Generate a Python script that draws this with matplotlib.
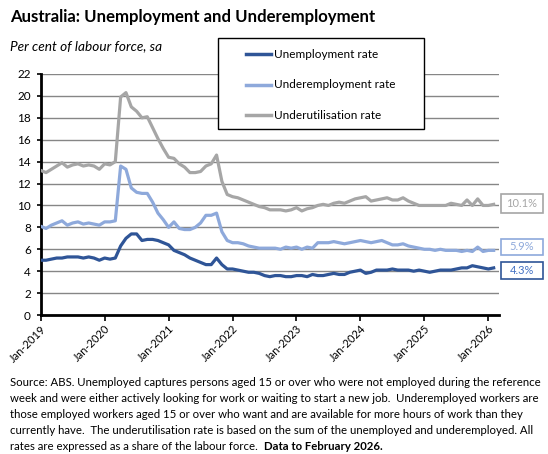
import numpy as np
import pandas as pd
import matplotlib
matplotlib.use('Agg')
import matplotlib.pyplot as plt
from matplotlib.lines import Line2D
from matplotlib.patches import Rectangle

plt.rcParams['font.family'] = ['Lato', 'DejaVu Sans']

# monthly data, Jan-2019 to Feb-2026
dates = pd.date_range('2019-01-01', '2026-02-01', freq='MS')

unemp = [5.0, 5.0, 5.1, 5.2, 5.2, 5.3, 5.3, 5.3, 5.2, 5.3, 5.2, 5.0,
         5.2, 5.1, 5.2, 6.3, 7.0, 7.4, 7.4, 6.8, 6.9, 6.9, 6.8, 6.6,
         6.4, 5.9, 5.7, 5.5, 5.2, 5.0, 4.8, 4.6, 4.6, 5.2, 4.6, 4.2,
         4.2, 4.1, 4.0, 3.9, 3.9, 3.8, 3.6, 3.5, 3.6, 3.6, 3.5, 3.5,
         3.6, 3.6, 3.5, 3.7, 3.6, 3.6, 3.7, 3.8, 3.7, 3.7, 3.9, 4.0,
         4.1, 3.8, 3.9, 4.1, 4.1, 4.1, 4.2, 4.1, 4.1, 4.1, 4.0, 4.1,
         4.0, 3.9, 4.0, 4.1, 4.1, 4.1, 4.2, 4.3, 4.3, 4.5, 4.4, 4.3,
         4.2, 4.3]

underemp = [8.1, 7.9, 8.2, 8.4, 8.6, 8.2, 8.4, 8.5, 8.3, 8.4, 8.3, 8.2,
            8.5, 8.5, 8.6, 13.6, 13.3, 11.6, 11.2, 11.1, 11.1, 10.3, 9.3, 8.7,
            8.0, 8.5, 7.9, 7.8, 7.8, 8.0, 8.4, 9.1, 9.1, 9.3, 7.6, 6.8,
            6.6, 6.6, 6.5, 6.3, 6.2, 6.1, 6.1, 6.1, 6.1, 6.0, 6.2, 6.1,
            6.2, 6.0, 6.2, 6.1, 6.6, 6.6, 6.6, 6.7, 6.6, 6.5, 6.6, 6.7,
            6.8, 6.7, 6.6, 6.7, 6.8, 6.6, 6.4, 6.4, 6.5, 6.3, 6.2, 6.1,
            6.0, 6.0, 5.9, 6.0, 5.9, 5.9, 5.9, 5.8, 5.9, 5.8, 6.2, 5.8,
            5.9, 5.9]

underutil = [13.2, 13.0, 13.3, 13.6, 13.9, 13.5, 13.7, 13.8, 13.6, 13.7, 13.6, 13.3,
             13.8, 13.7, 14.0, 19.9, 20.3, 19.0, 18.6, 18.0, 18.1, 17.1, 16.1, 15.2,
             14.4, 14.3, 13.8, 13.5, 13.0, 13.0, 13.1, 13.6, 13.8, 14.6, 12.2, 11.0,
             10.8, 10.7, 10.5, 10.3, 10.1, 9.9, 9.8, 9.6, 9.6, 9.6, 9.5, 9.6,
             9.8, 9.5, 9.7, 9.8, 10.0, 10.1, 10.0, 10.2, 10.3, 10.2, 10.4, 10.6,
             10.7, 10.8, 10.4, 10.5, 10.6, 10.7, 10.5, 10.5, 10.7, 10.4, 10.2, 10.0,
             10.0, 10.0, 10.0, 10.0, 10.0, 10.2, 10.1, 10.0, 10.5, 10.0, 10.6, 10.0,
             10.0, 10.1]

series_names = ['Unemployment rate', 'Underemployment rate', 'Underutilisation rate']
colors = ['#2F5597', '#8EA9DB', '#A6A6A6']
label_text_colors = ['#4472C4', '#8EA9DB', '#A6A6A6']

tick_years = list(range(2019, 2027))
tick_labels = ['Jan-%d' % y for y in tick_years]

W, H = 548, 454
def fx(px): return px / W
def fy(py): return 1 - py / H

fig = plt.figure(figsize=(5.48, 4.54), dpi=100)
ax = fig.add_axes([fx(40.7), fy(315), fx(499) - fx(40.7), fy(74) - fy(315)])

x = np.arange(len(dates))
for vals, col in zip([underutil, underemp, unemp], colors[::-1]):
    ax.plot(x, vals, color=col, lw=2.3, solid_joinstyle='round', zorder=3)

ax.set_ylim(0, 22)
ax.set_yticks(range(0, 23, 2))
ax.set_xlim(0, len(dates))
xt = [(y - 2019) * 12 for y in tick_years]
ax.set_xticks(xt)
ax.set_xticklabels(tick_labels, rotation=45, ha='right', rotation_mode='anchor', fontsize=8)
ax.tick_params(axis='y', labelsize=8.5, length=3, width=1.2, pad=4)
ax.tick_params(axis='x', length=4, width=1.2, pad=2)
ax.grid(axis='y', color='#868686', lw=1)
ax.set_axisbelow(True)
for s in ['top', 'right']:
    ax.spines[s].set_visible(False)
ax.spines['left'].set_linewidth(2)
ax.spines['bottom'].set_linewidth(2)

fig.text(fx(10), fy(17), 'Australia: Unemployment and Underemployment',
         fontsize=12.1, fontweight='bold', va='center')
fig.text(fx(10), fy(46), 'Per cent of labour force, sa', fontsize=9.8, style='italic', va='center')

# legend box drawn by hand
fig.patches.append(Rectangle((fx(218), fy(129)), fx(424) - fx(218), fy(38) - fy(129),
                             transform=fig.transFigure, fc='white', ec='black', lw=1, zorder=10))
for i, (name, col) in enumerate(zip(series_names, colors)):
    yy = fy(54 + i * 30.5)
    fig.lines.append(Line2D([fx(246), fx(271)], [yy, yy], transform=fig.transFigure,
                            color=col, lw=2.5, zorder=11))
    fig.text(fx(274), yy, name, fontsize=8.5, va='center', zorder=12)

# last-value labels
last = [unemp[-1], underemp[-1], underutil[-1]]
box_top = [262, 238.5, 194.5]
box_h = [17, 16, 18]
for v, top, h, col, tcol in zip(last, box_top, box_h, colors, label_text_colors):
    fig.patches.append(Rectangle((fx(501), fy(top + h)), fx(542.5) - fx(501), fy(top) - fy(top + h),
                                 transform=fig.transFigure, fc='white', ec=col, lw=1.2))
    fig.text(fx(521.7), fy(top + h / 2), '%.1f%%' % v, fontsize=8, color=tcol,
             ha='center', va='center')

src = ['Source: ABS. Unemployed captures persons aged 15 or over who were not employed during the reference',
       'week and were either actively looking for work or waiting to start a new job.  Underemployed workers are',
       'those employed workers aged 15 or over who want and are available for more hours of work than they',
       'currently have.  The underutilisation rate is based on the sum of the unemployed and underemployed. All']
last_line = 'rates are expressed as a share of the labour force.  '
bold_part = 'Data to February 2026.'
for i, line in enumerate(src):
    fig.text(fx(10), fy(382 + i * 16), line, fontsize=8.2, va='center')
t = fig.text(fx(10), fy(382 + 4 * 16), last_line, fontsize=8.2, va='center')
fig.canvas.draw()
bb = t.get_window_extent()
fig.text(bb.x1 / fig.bbox.width, fy(382 + 4 * 16), bold_part, fontsize=8.2, fontweight='bold', va='center')

fig.savefig('out.png', dpi=100)
